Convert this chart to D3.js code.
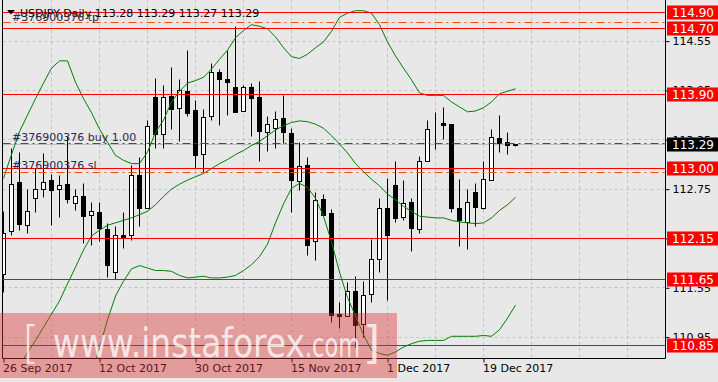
<!DOCTYPE html>
<html>
<head>
<meta charset="utf-8">
<script src="https://cdn.jsdelivr.net/npm/d3@7"></script>
<style>
  body { margin: 0; background: #e8e8e8; }
  svg { display: block; }
  text { font-family: "DejaVu Sans", sans-serif; }
</style>
</head>
<body>
<svg id="chart" width="718" height="382"></svg>
<script>
// USDJPY daily candles, one per trading day from 26 Sep 2017
const opens = [111.71,112.23,112.83,112.31,112.64,112.75,112.85,112.74,112.81,112.57,
  112.66,112.43,112.47,112.26,111.74,112.18,112.19,112.92,112.51,113.86,
  113.42,113.88,113.73,113.94,113.71,113.17,113.63,114.17,114.08,113.99,
  113.69,113.99,113.87,113.44,113.49,113.61,113.43,112.84,113.04,112.11,
  112.62,112.45,111.22,111.20,111.50,111.10,111.47,111.89,112.52,112.79,
  112.40,112.59,112.26,113.08,113.54,113.55,113.53,112.52,112.35,112.71,
  112.51,112.86,113.37,113.32,113.28];
const highs = [112.48,113.25,113.20,112.74,113.00,113.18,112.93,112.91,113.39,112.74,
  112.82,112.59,112.59,112.33,112.29,112.47,113.04,113.14,113.58,114.10,
  114.01,114.23,114.08,114.44,113.83,113.72,114.28,114.20,114.43,114.73,
  114.01,114.04,114.06,113.63,113.70,113.89,113.49,113.32,113.14,112.71,
  112.69,112.50,111.37,111.61,111.69,111.63,112.14,112.63,112.88,113.08,
  112.85,112.63,113.15,113.59,113.68,113.74,113.53,112.87,112.74,112.82,
  113.08,113.47,113.64,113.44,113.29];
const lows = [111.49,112.18,112.25,112.21,112.46,112.65,112.31,112.41,112.57,112.49,
  112.09,112.07,112.11,111.68,111.65,112.03,112.12,112.29,112.51,113.24,
  113.24,113.47,113.33,113.63,113.00,112.95,113.59,113.52,113.64,113.68,
  113.69,113.39,113.08,113.21,113.25,113.31,112.46,112.73,111.94,111.88,
  112.42,111.13,111.06,111.20,110.82,110.94,111.37,111.73,111.40,112.35,
  112.37,111.99,112.21,113.08,113.23,113.35,112.46,112.05,112.02,112.30,
  112.50,112.86,113.19,113.17,113.27];
const closes = [112.21,112.81,112.32,112.48,112.74,112.83,112.73,112.80,112.62,112.66,
  112.42,112.48,112.27,111.82,112.18,112.15,112.91,112.51,113.51,113.42,
  113.87,113.72,113.95,113.67,113.16,113.62,114.17,114.08,114.05,113.68,
  113.99,113.85,113.45,113.53,113.60,113.44,112.85,113.03,112.07,112.61,
  112.43,111.21,111.20,111.51,111.09,111.46,111.90,112.52,112.18,112.39,
  112.58,112.27,113.08,113.47,113.53,113.52,112.52,112.37,112.59,112.53,
  112.87,113.38,113.30,113.28,113.29];

// Bollinger bands
const bandUpper = [112.88,113.17,113.45,113.65,113.85,114.04,114.22,114.31,114.31,114.05,
  113.85,113.68,113.48,113.32,113.16,113.10,113.06,113.06,113.20,113.44,
  113.59,113.81,113.94,114.04,114.07,114.11,114.21,114.33,114.44,114.59,
  114.68,114.75,114.73,114.70,114.60,114.47,114.36,114.34,114.39,114.47,
  114.54,114.67,114.84,114.89,114.92,114.92,114.89,114.75,114.54,114.37,
  114.22,114.08,113.92,113.89,113.89,113.89,113.81,113.75,113.69,113.70,
  113.74,113.81,113.91,113.94,113.97];
const bandMiddle = [110.29,110.44,110.60,110.76,110.91,111.07,111.23,111.39,111.60,111.80,
  112.01,112.18,112.25,112.31,112.34,112.37,112.40,112.44,112.48,112.56,
  112.66,112.75,112.81,112.86,112.90,112.94,113.00,113.06,113.11,113.17,
  113.22,113.28,113.33,113.40,113.47,113.52,113.56,113.58,113.57,113.54,
  113.49,113.40,113.30,113.19,113.06,112.96,112.87,112.79,112.69,112.62,
  112.54,112.48,112.42,112.41,112.40,112.40,112.37,112.35,112.34,112.33,
  112.34,112.40,112.49,112.56,112.65];
const bandLower = [null,null,null,null,null,null,null,null,null,null,
  null,110.49,110.82,111.16,111.45,111.63,111.78,111.82,111.79,111.76,
  111.76,111.75,111.70,111.67,111.68,111.69,111.67,111.67,111.68,111.70,
  111.76,111.83,111.93,112.08,112.34,112.57,112.76,112.82,112.77,112.64,
  112.42,112.11,111.74,111.43,111.21,110.98,110.79,110.75,110.73,110.77,
  110.83,110.87,110.90,110.91,110.91,110.91,110.96,110.96,110.96,110.96,
  110.97,110.96,111.04,111.18,111.34];

// horizontal levels, order lines and axis labels
const levels = [114.90, 114.70, 113.90, 113.00, 112.15, 111.65, 110.85];
const tpPrice = 114.78, slPrice = 112.95, buyPrice = 113.31, bidPrice = 113.29;
const priceTicks = [114.55, 113.95, 113.35, 112.75, 112.15, 111.55, 110.95];
const dateTicks = [0, 12, 24, 36, 48, 60];
const dateLabels = ['26 Sep 2017', '12 Oct 2017', '30 Oct 2017', '15 Nov 2017', '1 Dec 2017', '19 Dec 2017'];
const title = 'USDJPY,Daily  113.28 113.29 113.27 113.29';
const orderId = '#376900376';

const svg = d3.select('#chart');
const left = 2.5, right = 665.5, bottom = 358.5;

const x = d3.scaleLinear().domain([0, 82]).range([3.5, 659.5]);
const y = d3.scaleLinear().domain([110.69, 115.05]).range([358.5, 0]);
const py = p => Math.round(y(p) - 0.5) + 0.5;

svg.append('rect').attr('width', 718).attr('height', 382).attr('fill', '#e8e8e8');

svg.append('clipPath').attr('id', 'plot')
  .append('rect').attr('x', 3).attr('y', 0).attr('width', 662).attr('height', 358);

const plot = svg.append('g').attr('clip-path', 'url(#plot)');

// grid
plot.selectAll('.hgrid').data(priceTicks).enter().append('line')
  .attr('x1', left).attr('x2', right)
  .attr('y1', d => py(d)).attr('y2', d => py(d))
  .attr('stroke', '#c4c4c4').attr('stroke-dasharray', '3,3');
plot.selectAll('.vgrid').data(d3.range(6, 83, 6)).enter().append('line')
  .attr('x1', d => x(d)).attr('x2', d => x(d))
  .attr('y1', 0).attr('y2', bottom)
  .attr('stroke', '#c4c4c4').attr('stroke-dasharray', '3,3');

// bid line
plot.append('line').attr('x1', left).attr('x2', right)
  .attr('y1', py(bidPrice)).attr('y2', py(bidPrice)).attr('stroke', '#bdbdbd');

// candles
const bars = plot.selectAll('.bar').data(opens).enter().append('g');
bars.append('line')
  .attr('x1', (d, i) => x(i)).attr('x2', (d, i) => x(i))
  .attr('y1', (d, i) => py(highs[i])).attr('y2', (d, i) => py(lows[i]))
  .attr('stroke', '#000');
bars.append('rect')
  .attr('x', (d, i) => x(i) - 2)
  .attr('width', 4)
  .attr('y', (d, i) => py(Math.max(d, closes[i])))
  .attr('height', (d, i) => Math.max(0, py(Math.min(d, closes[i])) - py(Math.max(d, closes[i]))))
  .attr('fill', (d, i) => closes[i] >= d ? '#fff' : '#000')
  .attr('stroke', '#000');

// bands
const band = d3.line().defined(d => d != null).x((d, i) => x(i)).y(d => y(d));
[bandUpper, bandMiddle, bandLower].forEach(s => {
  plot.append('path').datum(s).attr('d', band)
    .attr('fill', 'none').attr('stroke', '#008000').attr('stroke-width', 1);
});

// order texts
svg.append('path').attr('d', 'M7,10L15,10L11,14.5Z').attr('fill', '#000');
svg.append('text').attr('x', 20).attr('y', 16.5).attr('font-size', 11).attr('fill', '#000').text(title);
svg.append('text').attr('x', 12).attr('y', 20.5).attr('font-size', 11).attr('fill', '#2a2a48').text(orderId + ' tp');
svg.append('text').attr('x', 12).attr('y', 140.5).attr('font-size', 11).attr('fill', '#2a2a48').text(orderId + ' buy 1.00');
svg.append('text').attr('x', 12).attr('y', 168.5).attr('font-size', 11).attr('fill', '#2a2a48').text(orderId + ' sl');

// order lines
[[tpPrice, '#ff4a00'], [slPrice, '#ff4a00'], [buyPrice, '#008000']].forEach(([p, c]) => {
  plot.append('line').attr('x1', left).attr('x2', right)
    .attr('y1', py(p)).attr('y2', py(p))
    .attr('stroke', c).attr('stroke-dasharray', '8,4,2,4');
});

// red levels
plot.selectAll('.level').data(levels).enter().append('line')
  .attr('x1', left).attr('x2', right)
  .attr('y1', d => py(d)).attr('y2', d => py(d))
  .attr('stroke', '#ff0000');

// axes
const yAxis = svg.append('g').attr('transform', `translate(${right},0)`)
  .call(d3.axisRight(y).tickValues(priceTicks).tickSize(4).tickPadding(3).tickFormat(d3.format('.2f')));
yAxis.select('.domain').remove();
yAxis.selectAll('text').attr('font-size', 11).attr('font-family', 'DejaVu Sans').attr('fill', '#000');

const xAxis = svg.append('g').attr('transform', `translate(0,${bottom})`)
  .call(d3.axisBottom(x).tickValues(dateTicks).tickSize(4).tickPadding(2).tickFormat((d, i) => dateLabels[i]));
xAxis.select('.domain').remove();
xAxis.selectAll('text').attr('font-size', 11).attr('font-family', 'DejaVu Sans')
  .attr('text-anchor', 'start').attr('dx', -1).attr('fill', '#000');

// frame
svg.append('path').attr('d', `M${left},0V${bottom}H${right}V0`)
  .attr('fill', 'none').attr('stroke', '#000');

// price boxes
const boxes = svg.selectAll('.box').data(levels.map(p => [p, '#ff0000'])
  .concat([[bidPrice, '#000']])).enter().append('g')
  .attr('transform', d => `translate(667,${py(d[0]) - 7})`);
boxes.append('rect').attr('width', 51).attr('height', 14).attr('fill', d => d[1]);
boxes.append('text').attr('x', 5).attr('y', 11.5).attr('font-size', 12)
  .attr('fill', '#fff').text(d => d3.format('.2f')(d[0]));

// watermark
const wm = svg.append('g');
wm.append('rect').attr('x', 0).attr('y', 313).attr('width', 397).attr('height', 65)
  .attr('fill', 'rgb(220,50,50)').attr('opacity', 0.42);
wm.append('text').attr('x', 22).attr('y', 358).attr('font-size', 44)
  .attr('font-family', 'Liberation Sans').attr('font-weight', 300)
  .attr('fill', '#fff').attr('opacity', 0.75).text('[');
wm.append('text').attr('x', 53).attr('y', 357).attr('font-size', 40)
  .attr('font-family', 'Liberation Sans').attr('textLength', 252).attr('lengthAdjust', 'spacingAndGlyphs')
  .attr('fill', '#fff').attr('opacity', 0.75).text('www.instaforex');
wm.append('text').attr('x', 305).attr('y', 357).attr('font-size', 33)
  .attr('font-family', 'Liberation Sans').attr('textLength', 55).attr('lengthAdjust', 'spacingAndGlyphs')
  .attr('fill', '#fff').attr('opacity', 0.75).text('.com');
wm.append('text').attr('x', 363).attr('y', 358).attr('font-size', 44)
  .attr('font-family', 'Liberation Sans')
  .attr('fill', '#fff').attr('opacity', 0.75).text(']');
</script>
</body>
</html>
